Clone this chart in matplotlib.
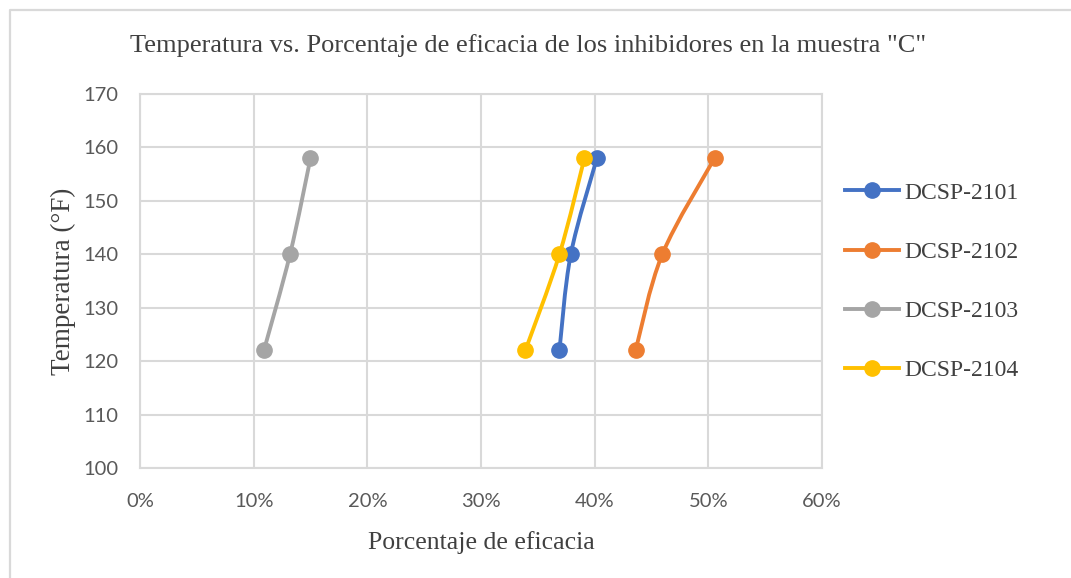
import matplotlib.pyplot as plt
import numpy as np
from matplotlib.lines import Line2D
from matplotlib.patches import PathPatch
from matplotlib.path import Path
from matplotlib.ticker import PercentFormatter

# Temperature (°F) against inhibitor efficiency for sample "C"
temps = [122, 140, 158]
eff_2101 = [0.369, 0.379, 0.402]
eff_2102 = [0.436, 0.4595, 0.5055]
eff_2103 = [0.109, 0.132, 0.150]
eff_2104 = [0.339, 0.369, 0.391]

labels = ["DCSP-2101", "DCSP-2102", "DCSP-2103", "DCSP-2104"]
colors = ["#4472C4", "#ED7D31", "#A5A5A5", "#FFC000"]
series = [eff_2101, eff_2102, eff_2103, eff_2104]

serif = "Liberation Serif"
sans = "Lato"
grid_color = "#D9D9D9"
text_color = "#404040"


def smooth_path(xs, ys):
    # Catmull-Rom style cubic Bezier through the points (like a spreadsheet "smoothed line")
    pts = np.column_stack([xs, ys]).astype(float)
    n = len(pts)
    verts = [pts[0]]
    codes = [Path.MOVETO]
    for i in range(n - 1):
        p0 = pts[i - 1] if i > 0 else pts[i]
        p1, p2 = pts[i], pts[i + 1]
        p3 = pts[i + 2] if i + 2 < n else pts[i + 1]
        c1 = p1 + (p2 - p0) / 6.0
        c2 = p2 - (p3 - p1) / 6.0
        verts += [c1, c2, p2]
        codes += [Path.CURVE4] * 3
    return Path(verts, codes)


fig = plt.figure(figsize=(10.71, 5.78), dpi=100)
ax = fig.add_axes([140 / 1071, 1 - 468 / 578, 682 / 1071, 374 / 578])

for vals, col, lab in zip(series, colors, labels):
    ax.add_patch(PathPatch(smooth_path(vals, temps), facecolor="none",
                           edgecolor=col, lw=2.8, capstyle="round", zorder=3))
    ax.plot(vals, temps, "o", color=col, ms=11, zorder=4)

ax.set_xlim(0, 0.6)
ax.set_ylim(100, 170)
ax.set_xticks(np.arange(0, 0.61, 0.1))
ax.set_yticks(np.arange(100, 171, 10))
ax.xaxis.set_major_formatter(PercentFormatter(1.0, decimals=0))
ax.grid(True, color=grid_color, lw=1.5)
ax.set_axisbelow(True)
for sp in ax.spines.values():
    sp.set_color(grid_color)
    sp.set_linewidth(1.5)
ax.tick_params(length=0, labelsize=14.5, labelcolor="#595959")
ax.tick_params(axis="y", pad=15.5)
ax.tick_params(axis="x", pad=18)
for t in ax.get_xticklabels() + ax.get_yticklabels():
    t.set_fontfamily(sans)

ax.set_xlabel("Porcentaje de eficacia", fontfamily=serif, fontsize=18.5,
              color=text_color, labelpad=15)
ax.set_ylabel("Temperatura (°F)", fontfamily=serif, fontsize=19.5,
              color=text_color, labelpad=5)

fig.text(528 / 1071, 1 - 46 / 578,
         'Temperatura vs. Porcentaje de eficacia de los inhibidores en la muestra "C"',
         fontfamily=serif, fontsize=19, color=text_color, ha="center", va="center")

handles = [Line2D([], [], color=c, lw=2.8, marker="o", ms=11) for c in colors]
leg = fig.legend(handles, labels, loc="upper left",
                 bbox_to_anchor=(845 / 1071, 1 - 182 / 578), frameon=False,
                 borderaxespad=0, borderpad=0,
                 prop={"family": serif, "size": 17}, labelspacing=1.6,
                 handlelength=2.3, handletextpad=0.2)
for t in leg.get_texts():
    t.set_color(text_color)

# chart area outline
fig.add_artist(Line2D([10 / 1071, 10 / 1071, 1.0], [0.0, 1 - 10 / 578, 1 - 10 / 578],
                      color=grid_color, lw=1.6, transform=fig.transFigure))

fig.savefig("out.png", dpi=100)
